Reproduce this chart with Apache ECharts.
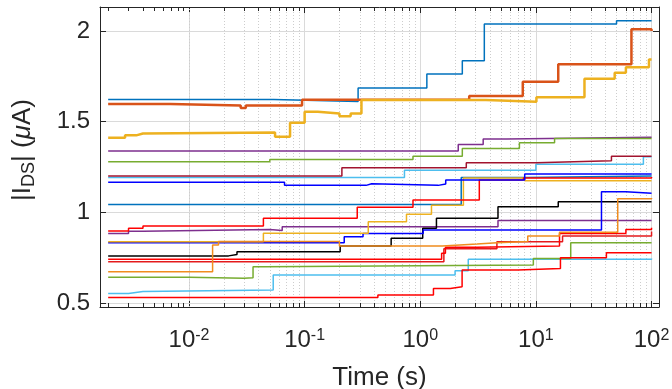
<!DOCTYPE html>
<html>
<head>
<meta charset="utf-8">
<script src="https://cdn.jsdelivr.net/npm/echarts@6/dist/echarts.min.js"></script>
<style>
  html, body { margin: 0; padding: 0; background: #fff; }
  #chart { width: 672px; height: 389px; }
</style>
</head>
<body>
<div id="chart"></div>
<script>
// step traces: change times (s) and |I_DS| (uA) after each change
const tA = [0.002, 0.054, 0.29, 1.14, 2.31, 3.58, 49.8, 100];
const vA = [1.623, 1.612, 1.686, 1.763, 1.836, 2.039, 2.057, 2.057];
const tB = [0.002, 0.0069, 0.028, 0.031, 0.095, 2.65, 7.7, 15.6, 67, 100];
const vB = [1.598, 1.59, 1.576, 1.59, 1.622, 1.642, 1.72, 1.817, 2.01, 2.0];
const tC = [0.002, 0.0028, 0.0035, 0.004, 0.0555, 0.0748, 0.1, 0.13, 0.2, 0.25, 0.31, 3.7, 10.1, 26.3, 48, 60, 95, 100];
const vC = [1.412, 1.425, 1.435, 1.44, 1.417, 1.495, 1.555, 1.545, 1.53, 1.545, 1.62, 1.61, 1.635, 1.737, 1.77, 1.80, 1.844, 1.844];
const tD = [0.002, 2.13, 3.5, 5.6, 100];
const vD = [1.338, 1.375, 1.405, 1.415, 1.417];
const tE = [0.002, 0.05, 0.865, 2.31, 7.2, 14.5, 100];
const vE = [1.279, 1.292, 1.31, 1.353, 1.384, 1.408, 1.405];
const tF = [0.002, 0.21, 2.5, 10.1, 45, 100];
const vF = [1.2, 1.246, 1.274, 1.285, 1.31, 1.31];
const tG = [0.002, 0.73, 10, 85, 100];
const vG = [1.192, 1.233, 1.266, 1.307, 1.307];
const tH = [0.002, 0.067, 0.34, 0.38, 1.43, 1.66, 8, 100];
const vH = [1.166, 1.149, 1.158, 1.149, 1.157, 1.178, 1.212, 1.21];
const tI = [0.002, 2.26, 8, 100];
const vI = [1.044, 1.193, 1.2, 1.2];
const tJ = [0.002, 0.003, 0.004, 0.044, 0.285, 0.865, 3.24, 7.8, 100];
const vJ = [0.897, 0.912, 0.925, 0.967, 1.028, 1.068, 1.178, 1.19, 1.195];
const tK = [0.002, 0.003, 0.004, 0.05, 0.064, 4.7, 100];
const vK = [0.884, 0.896, 0.906, 0.9, 0.921, 0.955, 0.955];
const tL = [0.002, 0.22, 0.32, 1.06, 36.9, 60, 100];
const vL = [0.833, 0.865, 0.884, 0.903, 1.114, 1.105, 1.105];
const tM = [0.002, 0.044, 0.355, 0.76, 1.25, 2.36, 8, 100];
const vM = [0.838, 0.885, 0.948, 0.99, 1.04, 1.19, 1.175, 1.175];
const tN = [0.002, 0.016, 0.018, 0.2, 1.55, 3.1, 4.6, 8.5, 16, 51, 100];
const vN = [0.673, 0.82, 0.84, 0.815, 0.825, 0.833, 0.84, 0.87, 0.89, 1.075, 1.08];
const tO = [0.002, 0.022, 0.026, 0.203, 0.56, 1.05, 1.38, 4.7, 15.6, 100];
const vO = [0.76, 0.768, 0.783, 0.814, 0.857, 0.912, 0.967, 1.031, 1.059, 1.062];
const tR1 = [0.002, 1.53, 1.65, 3.1, 16, 60, 100];
const vR1 = [0.741, 0.774, 0.807, 0.814, 0.884, 0.906, 0.915];
const tR2 = [0.002, 1.6, 4.6, 17, 100];
const vR2 = [0.728, 0.8, 0.838, 0.87, 0.895];
const tP = [0.002, 0.01, 0.03, 0.0358, 0.045, 9.5, 20, 100];
const vP = [0.642, 0.636, 0.64, 0.7, 0.71, 0.746, 0.833, 0.833];
const tQ = [0.002, 0.003, 0.004, 0.0535, 2.0, 2.6, 100];
const vQ = [0.553, 0.563, 0.572, 0.654, 0.678, 0.741, 0.746];
const tS = [0.002, 0.43, 1.3, 1.82, 2.3, 7.0, 16.3, 40.7, 100];
const vS = [0.531, 0.544, 0.58, 0.59, 0.682, 0.69, 0.75, 0.777, 0.775];

const xTickExp = [-2, -1, 0, 1, 2];
const yTicks = [0.5, 1, 1.5, 2];

const FONT = 'Liberation Sans, Arial, sans-serif';
const INK = '#262626';
const X_MIN = 0.0017, X_MAX = 116;
const Y_MIN = 0.478, Y_MAX = 2.133;

const traces = [
  [tG, vG, '#4DBEEE', 1.5],
  [tF, vF, '#A2142F', 1.5],
  [tA, vA, '#0072BD', 1.5],
  [tB, vB, '#D95319', 2.5],
  [tC, vC, '#EDB120', 2.5],
  [tD, vD, '#7E2F8E', 1.5],
  [tE, vE, '#77AC30', 1.5],
  [tI, vI, '#0072BD', 1.5],
  [tQ, vQ, '#4DBEEE', 1.5],
  [tP, vP, '#77AC30', 1.5],
  [tS, vS, '#FF0000', 1.5],
  [tR2, vR2, '#E41A1C', 1.5],
  [tR1, vR1, '#FF0000', 1.5],
  [tK, vK, '#7E2F8E', 1.5],
  [tO, vO, '#000000', 1.5],
  [tL, vL, '#0000FF', 1.5],
  [tM, vM, '#EDB120', 1.5],
  [tN, vN, '#F08C1E', 1.5],
  [tJ, vJ, '#FF0000', 1.5],
  [tH, vH, '#0000FF', 1.5]
];

// minor decade positions 2..9 x 10^n
const minorX = [];
for (let n = -3; n <= 1; n++) {
  for (let k = 2; k <= 9; k++) {
    const x = +(k * Math.pow(10, n)).toPrecision(3);
    if (x > X_MIN && x < X_MAX) minorX.push(x);
  }
}
const tickLen = 4 / 181;

const series = traces.map(([t, v, color, w]) => ({
  type: 'line',
  step: 'end',
  symbol: 'none',
  z: 5,
  lineStyle: { color: color, width: w },
  data: t.map((x, i) => [x, v[i]])
}));

series.unshift({
  type: 'line',
  data: [],
  z: 1,
  silent: true,
  markLine: {
    silent: true,
    symbol: 'none',
    animation: false,
    label: { show: false },
    lineStyle: { color: '#cdcdcd', type: [1, 2], width: 1 },
    data: minorX.map(x => ({ xAxis: x }))
  }
}, {
  type: 'line',
  data: [],
  z: 6,
  silent: true,
  markLine: {
    silent: true,
    symbol: 'none',
    animation: false,
    label: { show: false },
    lineStyle: { color: INK, type: 'solid', width: 1 },
    data: minorX.flatMap(x => [
      [{ coord: [x, Y_MIN] }, { coord: [x, Y_MIN + tickLen] }],
      [{ coord: [x, Y_MAX] }, { coord: [x, Y_MAX - tickLen] }]
    ])
  }
});

const isDecade = v => {
  const e = Math.log10(v);
  return Math.abs(e - Math.round(e)) < 1e-6 && xTickExp.includes(Math.round(e));
};

const chart = echarts.init(document.getElementById('chart'));
chart.setOption({
  animation: false,
  backgroundColor: '#fff',
  grid: { left: 100, right: 13, top: 7, bottom: 82, containLabel: false, outerBoundsMode: 'none' },
  xAxis: [{
    type: 'log',
    logBase: 10,
    min: X_MIN,
    max: X_MAX,
    axisLine: { show: true, onZero: false, lineStyle: { color: INK, width: 1 } },
    axisTick: { show: true, inside: true, length: 6, lineStyle: { color: INK } },
    splitLine: { show: true, lineStyle: { color: '#dadada', width: 1 } },
    axisLabel: {
      margin: 21,
      color: INK,
      fontFamily: FONT,
      fontSize: 24,
      formatter: v => isDecade(v) ? '{b|10}{e|' + Math.round(Math.log10(v)) + '}' : '',
      rich: {
        b: { fontSize: 24, fontFamily: FONT, color: INK },
        e: { fontSize: 16, fontFamily: FONT, color: INK, verticalAlign: 'top', padding: [0, 0, 6, 0] }
      }
    },
    name: 'Time (s)',
    nameLocation: 'middle',
    nameGap: 58,
    nameTextStyle: { fontSize: 26, fontFamily: FONT, color: INK }
  }, {
    type: 'log',
    logBase: 10,
    min: X_MIN,
    max: X_MAX,
    position: 'top',
    axisLine: { show: true, onZero: false, lineStyle: { color: INK, width: 1 } },
    axisTick: { show: true, inside: true, length: 6, lineStyle: { color: INK } },
    axisLabel: { show: false },
    splitLine: { show: false }
  }],
  yAxis: [{
    type: 'value',
    min: Y_MIN,
    max: Y_MAX,
    splitNumber: 3,
    axisLine: { show: true, onZero: false, lineStyle: { color: INK, width: 1 } },
    axisTick: { show: true, inside: true, length: 6, lineStyle: { color: INK } },
    splitLine: { show: true, lineStyle: { color: '#dadada', width: 1 } },
    axisLabel: {
      margin: 10,
      color: INK,
      fontFamily: FONT,
      fontSize: 24,
      formatter: v => yTicks.some(t => Math.abs(t - v) < 1e-6) ? String(v) : ''
    },
    name: '{n||I}{s|DS}{n|| (}{m|μ}{n|A)}',
    nameLocation: 'middle',
    nameGap: 62,
    nameTextStyle: {
      color: INK,
      fontFamily: FONT,
      fontSize: 26,
      padding: [0, 0, 0, 14],
      rich: {
        n: { fontSize: 26, fontFamily: FONT, color: INK },
        s: { fontSize: 18, fontFamily: FONT, color: INK, verticalAlign: 'bottom', padding: [12, 0, 0, 0] },
        m: { fontSize: 26, fontFamily: FONT, color: INK, fontStyle: 'italic' }
      }
    }
  }, {
    type: 'value',
    min: Y_MIN,
    max: Y_MAX,
    splitNumber: 3,
    position: 'right',
    axisLine: { show: true, onZero: false, lineStyle: { color: INK, width: 1 } },
    axisTick: { show: true, inside: true, length: 6, lineStyle: { color: INK } },
    axisLabel: { show: false },
    splitLine: { show: false }
  }],
  series: series
});
</script>
</body>
</html>
